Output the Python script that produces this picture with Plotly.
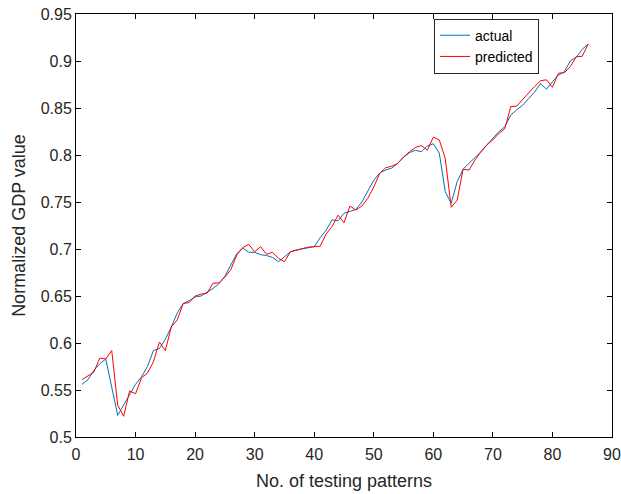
import plotly.graph_objects as go

x_vals = list(range(1, 87))

actual = [0.556, 0.561, 0.571, 0.578, 0.583, 0.553, 0.523, 0.534, 0.545, 0.556,
          0.564, 0.575, 0.592, 0.594, 0.604, 0.617, 0.632, 0.642, 0.645, 0.649,
          0.650, 0.654, 0.658, 0.663, 0.671, 0.683, 0.695, 0.701, 0.6965, 0.6965,
          0.694, 0.693, 0.691, 0.6865, 0.692, 0.697, 0.699, 0.700, 0.7015, 0.7025,
          0.712, 0.720, 0.731, 0.730, 0.738, 0.740, 0.742, 0.750, 0.761, 0.773,
          0.781, 0.784, 0.786, 0.791, 0.7975, 0.8025, 0.805, 0.8035, 0.8096, 0.812,
          0.802, 0.761, 0.7486, 0.7716, 0.785, 0.791, 0.797, 0.8035, 0.8106, 0.8177,
          0.8248, 0.830, 0.8426, 0.848, 0.853, 0.860, 0.867, 0.876, 0.870, 0.878,
          0.885, 0.8886, 0.900, 0.904, 0.9125, 0.918]

predicted = [0.561, 0.565, 0.569, 0.584, 0.583, 0.592, 0.534, 0.522, 0.549, 0.546,
             0.563, 0.568, 0.580, 0.601, 0.592, 0.617, 0.6245, 0.642, 0.643, 0.650,
             0.652, 0.653, 0.6635, 0.664, 0.670, 0.678, 0.6936, 0.7015, 0.705, 0.697,
             0.7025, 0.6943, 0.6965, 0.690, 0.6865, 0.697, 0.6985, 0.700, 0.702, 0.7025,
             0.703, 0.716, 0.724, 0.736, 0.728, 0.7457, 0.7415, 0.7457, 0.754, 0.766,
             0.7805, 0.7865, 0.788, 0.791, 0.798, 0.8035, 0.808, 0.810, 0.805, 0.819,
             0.816, 0.7965, 0.7444, 0.752, 0.7848, 0.784, 0.7947, 0.8035, 0.811, 0.816,
             0.823, 0.828, 0.8515, 0.852, 0.8585, 0.866, 0.8727, 0.879, 0.880, 0.872,
             0.887, 0.8876, 0.894, 0.9046, 0.905, 0.918]

x_ticks = [0, 10, 20, 30, 40, 50, 60, 70, 80, 90]
y_ticks = [0.5, 0.55, 0.6, 0.65, 0.7, 0.75, 0.8, 0.85, 0.9, 0.95]
y_tick_text = ["0.5", "0.55", "0.6", "0.65", "0.7", "0.75", "0.8", "0.85", "0.9", "0.95"]

FONT = "Liberation Sans, Arial, Helvetica, sans-serif"

fig = go.Figure()
fig.add_trace(go.Scatter(x=x_vals, y=actual, mode="lines", name="actual",
                         line=dict(color="#0072BD", width=1)))
fig.add_trace(go.Scatter(x=x_vals, y=predicted, mode="lines", name="predicted",
                         line=dict(color="#FF0000", width=1)))

axis_common = dict(showgrid=False, zeroline=False, showline=True, linecolor="black",
                   linewidth=1, mirror="ticks", ticks="inside", ticklen=5,
                   tickcolor="black", automargin=False,
                   tickfont=dict(family=FONT, size=16, color="#262626"))

fig.update_xaxes(range=[0, 90], tickvals=x_ticks, ticklabelstandoff=3,
                 title=dict(text="No. of testing patterns", font=dict(family=FONT, size=18, color="#262626"),
                            standoff=12),
                 **axis_common)
fig.update_yaxes(range=[0.5, 0.95], tickvals=y_ticks, ticktext=y_tick_text,
                 title=dict(text="Normalized GDP value", font=dict(family=FONT, size=18, color="#262626"),
                            standoff=10),
                 **axis_common)

fig.update_layout(
    width=621, height=494,
    margin=dict(l=76, r=9, t=14, b=57),
    paper_bgcolor="white", plot_bgcolor="white",
    font=dict(family=FONT, size=15, color="#262626"),
    showlegend=True,
    legend=dict(x=0.668, y=0.989, xanchor="left", yanchor="top",
                bgcolor="white", bordercolor="#262626", borderwidth=1,
                font=dict(family=FONT, size=14, color="black"),
                tracegroupgap=0, itemwidth=30),
)

fig.write_html("out.html")
